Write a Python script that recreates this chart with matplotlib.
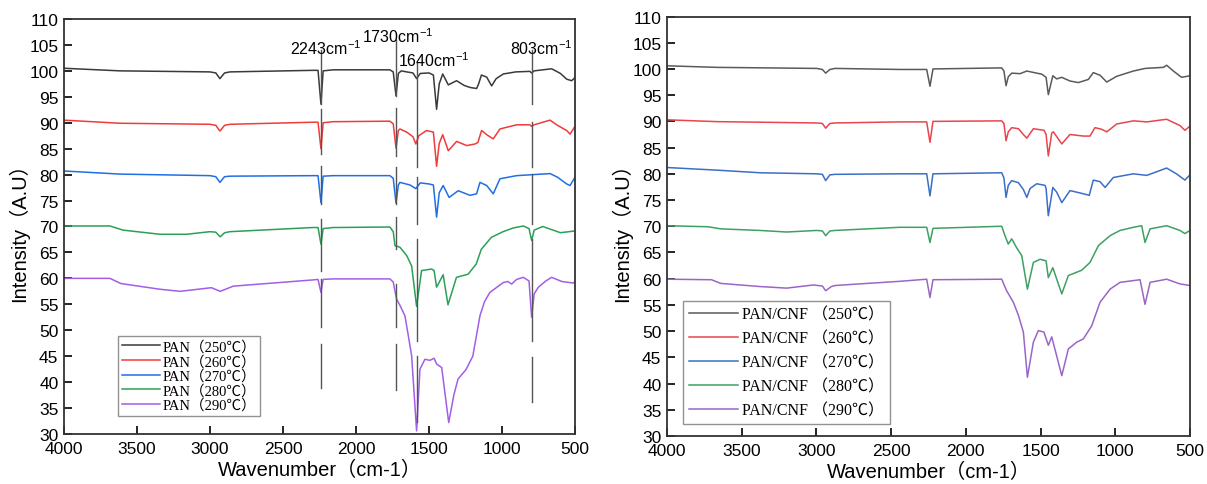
import matplotlib
matplotlib.use("Agg")
import matplotlib.pyplot as plt

plt.rcParams['font.family'] = ['Liberation Sans', 'Noto Sans CJK SC', 'DejaVu Sans']
plt.rcParams['mathtext.default'] = 'regular'

# ---- left panel: PAN ----
pan250_wn = [4000, 3616, 3000, 2960, 2932, 2900, 2863, 2295, 2260, 2240, 2225, 2156, 1768, 1745, 1726, 1710, 1690,
             1653, 1610, 1585, 1560, 1500, 1470, 1448, 1430, 1406, 1368, 1311, 1260, 1219, 1174, 1160, 1141, 1105,
             1071, 1040, 991, 905, 810, 797, 780, 720, 660, 600, 557, 523, 500]
pan250_y = [100.5, 100.0, 99.8, 99.6, 98.5, 99.6, 99.8, 100.1, 100.1, 93.6, 100.0, 100.2, 100.2, 99.8, 95.2, 99.5, 100.0,
            99.8, 99.6, 98.5, 99.5, 99.6, 99.2, 92.6, 97.5, 99.4, 97.3, 98.1, 97.2, 96.8, 96.6, 97.5, 99.2, 98.8,
            97.1, 98.5, 99.4, 99.8, 99.9, 99.6, 100.0, 100.2, 100.4, 99.5, 98.4, 98.1, 98.7]

pan260_wn = [4000, 3616, 3000, 2960, 2932, 2900, 2863, 2295, 2260, 2240, 2225, 2156, 1768, 1745, 1726, 1710, 1699,
             1653, 1610, 1590, 1570, 1517, 1470, 1448, 1430, 1406, 1368, 1311, 1242, 1185, 1165, 1140, 1100, 1060,
             1014, 900, 810, 797, 780, 671, 620, 557, 534, 500]
pan260_y = [90.5, 89.9, 89.7, 89.5, 88.4, 89.5, 89.7, 90.1, 90.1, 85.0, 90.0, 90.2, 90.3, 89.8, 85.1, 88.5, 88.8,
            88.2, 87.3, 85.9, 87.5, 88.5, 88.2, 81.6, 86.0, 87.7, 84.6, 86.4, 85.6, 85.9, 86.2, 88.5, 87.6, 86.9,
            88.8, 89.6, 89.6, 89.3, 89.6, 90.5, 89.5, 88.5, 87.8, 89.3]

pan270_wn = [4000, 3616, 3000, 2960, 2932, 2900, 2863, 2295, 2260, 2240, 2225, 2156, 1768, 1745, 1726, 1710, 1699,
             1630, 1590, 1560, 1500, 1470, 1448, 1430, 1403, 1362, 1300, 1219, 1174, 1151, 1105, 1060, 1014, 900,
             671, 620, 557, 534, 500]
pan270_y = [80.7, 80.1, 79.8, 79.6, 78.5, 79.6, 79.7, 79.8, 79.8, 74.6, 79.7, 79.8, 79.8, 79.3, 74.5, 78.0, 78.5,
            78.0, 77.3, 78.4, 78.2, 78.0, 71.8, 76.5, 77.9, 75.6, 76.9, 76.0, 76.3, 78.5, 77.9, 76.3, 79.2, 79.8,
            80.2, 79.5, 78.2, 77.9, 79.5]

pan280_wn = [4000, 3685, 3596, 3342, 3160, 3000, 2960, 2930, 2900, 2863, 2295, 2260, 2240, 2225, 2156, 1768, 1745,
             1733, 1699, 1653, 1619, 1585, 1551, 1482, 1465, 1448, 1403, 1370, 1312, 1232, 1176, 1142, 1073, 993,
             925, 854, 815, 797, 780, 721, 600, 512, 500]
pan280_y = [70.1, 70.1, 69.3, 68.5, 68.5, 69.0, 68.9, 68.0, 68.8, 69.0, 69.8, 69.8, 66.6, 69.6, 69.8, 69.9, 69.0,
            66.3, 66.0, 64.4, 62.4, 54.6, 61.5, 61.8, 61.5, 58.3, 60.7, 54.9, 60.2, 60.8, 62.8, 65.6, 67.9, 69.0,
            69.7, 70.1, 69.6, 67.3, 69.3, 70.0, 68.8, 69.1, 69.2]

pan290_wn = [4000, 3685, 3610, 3342, 3205, 3022, 2990, 2930, 2840, 2295, 2260, 2240, 2225, 2156, 1768, 1745, 1722,
             1699, 1665, 1642, 1619, 1585, 1562, 1528, 1494, 1465, 1448, 1413, 1365, 1330, 1301, 1247, 1200, 1151,
             1120, 1083, 991, 960, 934, 900, 854, 815, 797, 780, 751, 700, 660, 591, 512, 500]
pan290_y = [60.0, 60.0, 59.0, 57.9, 57.5, 58.1, 58.2, 57.5, 58.5, 59.7, 59.8, 57.3, 59.8, 59.9, 59.9, 59.3, 56.0,
            54.8, 52.8, 49.0, 45.1, 30.6, 42.5, 44.4, 44.2, 44.6, 43.5, 42.8, 32.2, 37.5, 40.6, 42.4, 45.0, 52.8,
            55.5, 57.3, 59.2, 59.4, 58.9, 59.8, 60.2, 59.5, 52.5, 57.0, 58.3, 59.5, 60.2, 59.4, 59.1, 59.4]

# ---- right panel: PAN/CNF ----
cnf250_wn = [4000, 3667, 2998, 2960, 2938, 2910, 2875, 2441, 2262, 2240, 2220, 1760, 1745, 1731, 1716, 1693, 1637,
             1592, 1492, 1463, 1448, 1418, 1392, 1358, 1303, 1247, 1180, 1147, 1102, 1057, 990, 879, 801, 678, 656,
             611, 556, 500]
cnf250_y = [100.6, 100.3, 100.1, 99.9, 99.2, 99.9, 100.1, 99.9, 99.9, 96.7, 100.0, 100.2, 99.6, 96.8, 98.5, 99.2, 99.1,
            99.6, 99.0, 98.4, 95.1, 98.7, 98.1, 98.4, 97.7, 97.4, 98.0, 99.3, 98.8, 97.5, 98.6, 99.6, 100.1, 100.3, 100.7,
            99.6, 98.4, 98.7]

cnf260_wn = [4000, 3667, 2998, 2960, 2938, 2910, 2875, 2441, 2262, 2240, 2220, 1760, 1745, 1731, 1716, 1693, 1648,
             1615, 1592, 1548, 1477, 1463, 1448, 1425, 1414, 1358, 1303, 1214, 1169, 1136, 1091, 1057, 990, 879, 789,
             656, 567, 534, 500]
cnf260_y = [90.3, 89.95, 89.7, 89.6, 88.7, 89.6, 89.7, 89.9, 89.9, 86.0, 90.0, 90.1, 89.6, 86.3, 88.0, 88.8, 88.6,
            87.5, 86.8, 88.6, 88.3, 87.5, 83.4, 87.8, 88.0, 85.7, 87.5, 87.2, 87.2, 88.8, 88.5, 88.0, 89.5, 90.1, 89.9,
            90.4, 89.2, 88.3, 89.1]

cnf270_wn = [4000, 3667, 3378, 2998, 2960, 2938, 2910, 2875, 2441, 2262, 2240, 2220, 1760, 1745, 1731, 1716, 1693,
             1648, 1615, 1592, 1570, 1526, 1470, 1463, 1448, 1418, 1392, 1358, 1303, 1214, 1174, 1147, 1102, 1068,
             1013, 879, 789, 656, 589, 534, 500]
cnf270_y = [81.2, 80.7, 80.2, 80.0, 79.9, 78.7, 79.8, 79.9, 80.0, 80.0, 75.8, 80.0, 80.2, 79.2, 75.5, 77.8, 78.7,
            78.3, 77.0, 75.5, 77.2, 78.1, 77.8, 77.2, 72.0, 77.4, 76.5, 74.5, 76.8, 76.2, 75.9, 78.8, 78.5, 77.4,
            79.3, 80.0, 79.7, 81.1, 79.97, 78.8, 79.8]

cnf280_wn = [4000, 3725, 3640, 3378, 3199, 2998, 2960, 2938, 2910, 2875, 2441, 2262, 2240, 2220, 1760, 1738, 1716,
             1693, 1660, 1626, 1588, 1548, 1503, 1463, 1448, 1418, 1358, 1314, 1225, 1169, 1113, 1035, 968, 879, 823,
             801, 767, 656, 567, 534, 500]
cnf280_y = [70.1, 69.9, 69.5, 69.2, 68.9, 69.2, 69.1, 68.2, 69.1, 69.2, 69.8, 69.8, 66.9, 69.6, 70.0, 68.2, 66.6,
            67.6, 65.9, 64.4, 58.0, 63.1, 63.7, 63.4, 60.2, 62.1, 57.1, 60.6, 61.6, 63.1, 66.3, 68.2, 69.2, 69.8, 70.1,
            66.9, 69.5, 70.1, 69.2, 68.6, 69.2]

cnf290_wn = [4000, 3702, 3640, 3378, 3199, 3020, 2960, 2938, 2900, 2875, 2441, 2262, 2240, 2220, 1760, 1727, 1682,
             1648, 1615, 1588, 1548, 1515, 1477, 1448, 1425, 1358, 1314, 1258, 1214, 1158, 1102, 1035, 968, 834, 801,
             767, 656, 567, 500]
cnf290_y = [59.9, 59.8, 59.1, 58.5, 58.2, 58.8, 58.6, 57.7, 58.5, 58.7, 59.5, 59.9, 56.4, 59.8, 59.9, 57.7, 55.5,
            53.0, 49.8, 41.2, 47.9, 50.1, 49.8, 47.3, 48.9, 41.5, 46.6, 47.9, 48.5, 51.0, 55.5, 58.0, 59.3, 59.8, 55.1,
            59.3, 59.9, 59.0, 58.7]

temps = ['250', '260', '270', '280', '290']

# marker lines on the PAN panel (position, label, broken segments as (top, bottom))
mark_wn = [2240, 1726, 1585, 797]
mark_text = ['2243', '1730', '1640', '803']
mark_segs = [
    [(104.0, 93.6), (92.6, 84.0), (81.7, 74.3), (71.4, 61.4), (59.9, 50.6), (47.4, 38.8)],
    [(106.0, 95.2), (92.8, 83.5), (81.5, 74.3), (71.8, 65.6), (58.9, 50.6), (47.4, 38.5)],
    [(101.5, 81.4), (79.5, 70.5), (67.6, 47.9), (45.0, 32.3)],
    [(104.0, 93.6), (90.1, 81.4), (80.1, 70.5), (67.6, 47.9), (44.8, 36.2)],
]

left_colors = ['#3a3a3a', '#f23a3a', '#1f6fe6', '#2aa058', '#a25ee6']
right_colors = ['#5a5a5a', '#e8454c', '#3b6fc6', '#3ea062', '#9a66c6']

sans = ['Liberation Sans', 'Noto Sans CJK SC', 'DejaVu Sans']
serif = ['Liberation Serif', 'Noto Sans CJK SC', 'DejaVu Sans']

fig = plt.figure(figsize=(12.07, 4.85), dpi=100)
ax1 = fig.add_axes([0.0530, 0.1031, 0.4234, 0.8557])
ax2 = fig.add_axes([0.5526, 0.0990, 0.4333, 0.8649])

left = [(pan250_wn, pan250_y), (pan260_wn, pan260_y), (pan270_wn, pan270_y), (pan280_wn, pan280_y), (pan290_wn, pan290_y)]
right = [(cnf250_wn, cnf250_y), (cnf260_wn, cnf260_y), (cnf270_wn, cnf270_y), (cnf280_wn, cnf280_y), (cnf290_wn, cnf290_y)]

for i in range(5):
    ax1.plot(left[i][0], left[i][1], color=left_colors[i], lw=1.1, label='PAN（' + temps[i] + '℃）')
    ax2.plot(right[i][0], right[i][1], color=right_colors[i], lw=1.1, label='PAN/CNF （' + temps[i] + '℃）')

for j in range(len(mark_wn)):
    for top, bot in mark_segs[j]:
        ax1.plot([mark_wn[j], mark_wn[j]], [top, bot], color='#555555', lw=1.0)

ax1.text(2206, 104.4, mark_text[0] + 'cm$^{-1}$', ha='center', va='center', fontsize=11.5)
ax1.text(1712, 106.7, mark_text[1] + 'cm$^{-1}$', ha='center', va='center', fontsize=11.5)
ax1.text(1466, 102.1, mark_text[2] + 'cm$^{-1}$', ha='center', va='center', fontsize=11.5)
ax1.text(733, 104.4, mark_text[3] + 'cm$^{-1}$', ha='center', va='center', fontsize=11.5)

for ax in [ax1, ax2]:
    ax.set_xlim(4000, 500)
    ax.set_ylim(30, 110)
    ax.set_xticks(range(4000, 499, -500))
    ax.set_yticks(range(30, 111, 5))
    ax.tick_params(direction='in', length=6, width=1.2, labelsize=12.5, top=False, right=False, pad=4)
    ax.tick_params(axis='x', pad=5)
    for s in ax.spines.values():
        s.set_linewidth(1.3)
        s.set_color('#333333')
    ax.set_xlabel('Wavenumber（cm-1）', fontsize=14.5, family=sans, labelpad=3)
    ax.set_ylabel('Intensity（A.U）', fontsize=14.5, family=sans, labelpad=0)

leg1 = ax1.legend(loc='upper left', bbox_to_anchor=(0.106, 0.236), borderaxespad=0, frameon=True, fancybox=False,
                  edgecolor='#777777', prop={'family': serif, 'size': 10.5}, handlelength=2.6, handletextpad=0.2,
                  labelspacing=0.05, borderpad=0.25)
leg1.get_frame().set_linewidth(1.0)
leg2 = ax2.legend(loc='upper left', bbox_to_anchor=(0.031, 0.322), borderaxespad=0, frameon=True, fancybox=False,
                  edgecolor='#777777', prop={'family': serif, 'size': 11.5}, handlelength=3.1, handletextpad=0.25,
                  labelspacing=0.5, borderpad=0.35)
leg2.get_frame().set_linewidth(1.0)

fig.savefig('out.png', dpi=100)
